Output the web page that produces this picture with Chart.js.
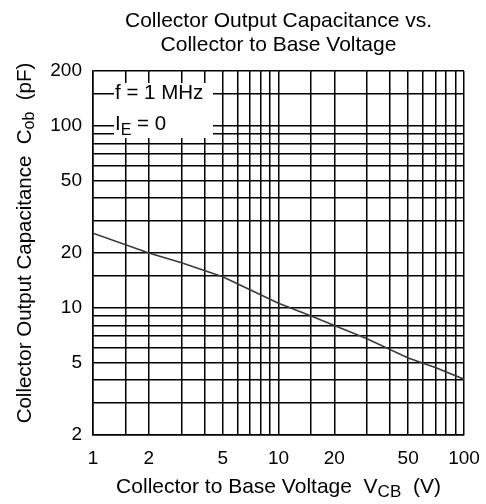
<!DOCTYPE html>
<html>
<head>
<meta charset="utf-8">
<script src="https://cdn.jsdelivr.net/npm/chart.js@4"></script>
<style>
  html, body { margin: 0; padding: 0; background: #fff; }
  #wrap { width: 486px; height: 504px; }
</style>
</head>
<body>
<div id="wrap"><canvas id="c" width="486" height="504"></canvas></div>
<script>
// ---- data ----
const voltage = [1, 2, 3, 5, 10, 15, 20, 30, 50, 70, 100];          // V_CB (V)
const capacitance = [25.7, 20.0, 17.7, 14.8, 10.6, 9.0, 8.0, 6.75, 5.3, 4.7, 4.05]; // C_ob (pF)
const xGrid = [1, 1.5, 2, 3, 4, 5, 6, 7, 8, 9, 10, 15, 20, 30, 40, 50, 60, 70, 80, 90, 100];
const yGrid = [2, 3, 4, 5, 6, 7, 8, 9, 10, 15, 20, 30, 40, 50, 60, 70, 80, 90, 100, 150, 200];
const xLabels = [1, 2, 5, 10, 20, 50, 100];
const yLabels = [2, 5, 10, 20, 50, 100, 200];
const titleLines = ['Collector Output Capacitance vs.', 'Collector to Base Voltage'];
const xTitle = [['Collector to Base Voltage  V', false], ['CB', true], ['  (V)', false]];
const yTitle = [['Collector Output Capacitance  C', false], ['ob', true], ['  (pF)', false]];
const noteLine1 = [['f = 1 MHz', false]];
const noteLine2 = [['I', false], ['E', true], [' = 0', false]];

const FONT = "'Liberation Sans', Arial, Helvetica, sans-serif";
Chart.defaults.font.family = FONT;
Chart.defaults.color = '#000';

function segWidth(ctx, segs, size) {
  let w = 0;
  for (const [t, sub] of segs) {
    ctx.font = (sub ? Math.round(size * 0.8) : size) + 'px ' + FONT;
    w += ctx.measureText(t).width;
  }
  return w;
}
function drawSegs(ctx, segs, x, y, size, subOff) {
  let cx = x;
  for (const [t, sub] of segs) {
    ctx.font = (sub ? Math.round(size * 0.8) : size) + 'px ' + FONT;
    ctx.fillText(t, cx, sub ? y + subOff : y);
    cx += ctx.measureText(t).width;
  }
}

const annot = {
  id: 'annot',
  afterDatasetsDraw(chart) {
    const { ctx, chartArea: a } = chart;
    const cx = (a.left + a.right) / 2;
    ctx.save();
    ctx.fillStyle = '#000';
    ctx.textBaseline = 'middle';
    // chart title, centred over the plot area
    ctx.textAlign = 'center';
    ctx.font = '21px ' + FONT;
    titleLines.forEach((t, i) => ctx.fillText(t, cx, 21 + i * 24));
    ctx.textAlign = 'left';
    // legend box
    ctx.fillStyle = '#fff';
    ctx.fillRect(a.left + 21, a.top + 12, 99, 55);
    ctx.fillStyle = '#000';
    drawSegs(ctx, noteLine1, a.left + 22, a.top + 22, 20.5, 0);
    drawSegs(ctx, noteLine2, a.left + 22, a.top + 53, 20.5, 7);
    // x axis title
    const xw = segWidth(ctx, xTitle, 21);
    drawSegs(ctx, xTitle, cx - xw / 2, 487, 21, 5);
    // y axis title
    const yw = segWidth(ctx, yTitle, 20.5);
    ctx.translate(25, 243);
    ctx.rotate(-Math.PI / 2);
    drawSegs(ctx, yTitle, -yw / 2, 0, 20.5, 5);
    ctx.restore();
  }
};

const gridStyle = { color: '#000', lineWidth: 1.5, drawTicks: false };
const borderStyle = { display: true, color: '#000', width: 1.5 };

new Chart(document.getElementById('c'), {
  type: 'scatter',
  data: {
    datasets: [{
      data: voltage.map((v, i) => ({ x: v, y: capacitance[i] })),
      showLine: true,
      borderColor: '#3a3a3a',
      borderWidth: 1.6,
      pointRadius: 0,
      tension: 0
    }]
  },
  options: {
    responsive: false,
    animation: false,
    layout: { padding: { left: 0, right: 22, top: 71, bottom: 0 } },
    plugins: {
      legend: { display: false },
      tooltip: { enabled: false },
      title: { display: false }
    },
    scales: {
      x: {
        type: 'logarithmic',
        min: 1, max: 100,
        grid: gridStyle,
        border: borderStyle,
        afterBuildTicks: s => { s.ticks = xGrid.map(v => ({ value: v })); },
        afterFit: s => { s.height = 69; s.paddingLeft = 0; s.paddingRight = 0; },
        ticks: {
          autoSkip: false, maxRotation: 0, padding: 12,
          font: { size: 19 },
          callback: v => xLabels.includes(v) ? String(v) : ''
        }
      },
      y: {
        type: 'logarithmic',
        min: 2, max: 200,
        grid: gridStyle,
        border: borderStyle,
        afterBuildTicks: s => { s.ticks = yGrid.map(v => ({ value: v })); },
        afterFit: s => { s.width = 93; s.paddingTop = 0; s.paddingBottom = 0; },
        ticks: {
          autoSkip: false, padding: 11,
          font: { size: 19 },
          callback: v => yLabels.includes(v) ? String(v) : ''
        }
      }
    }
  },
  plugins: [annot]
});
</script>
</body>
</html>
